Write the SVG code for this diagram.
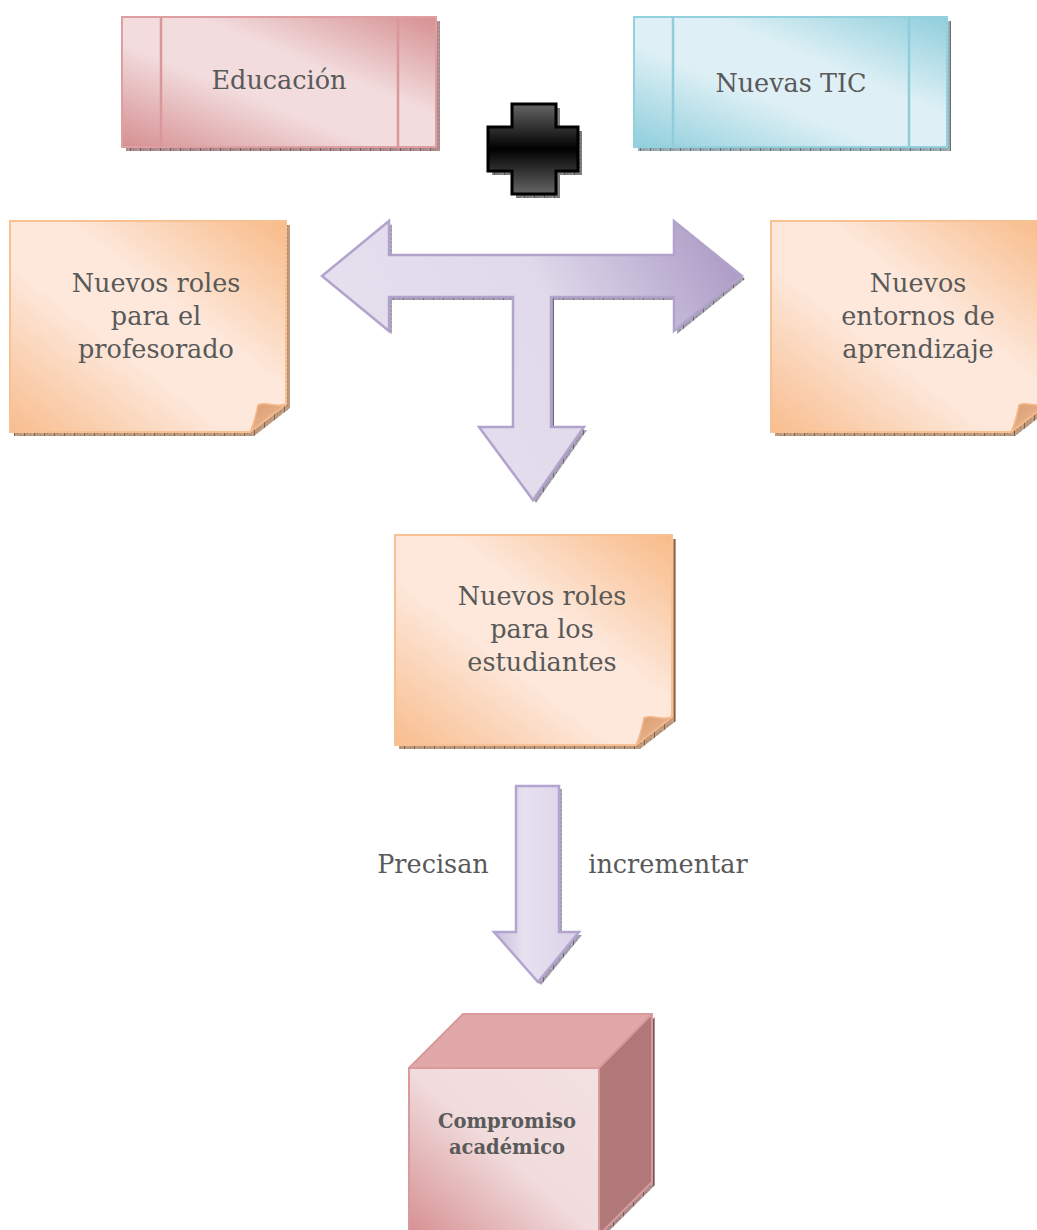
<svg xmlns="http://www.w3.org/2000/svg" xmlns:xlink="http://www.w3.org/1999/xlink" width="1037" height="1230" viewBox="0 0 1037 1230">
<defs>
  <style>
    .t{font-family:"DejaVu Serif","Liberation Serif",serif;font-size:25.5px;fill:#595959;text-anchor:middle}
    .tb{font-family:"DejaVu Serif","Liberation Serif",serif;font-size:19.5px;font-weight:bold;fill:#5a5a5a;text-anchor:middle}
    .hatch{fill:url(#hatch)}
    .pinkS{fill:#ad8a8c}
    .blueS{fill:#97aab1}
    .orS{fill:#bf9a7c}
    .lavS{fill:#a49fae}
    .blkS{fill:#808080}
  </style>
  <pattern id="hatch" width="10" height="4" patternUnits="userSpaceOnUse">
    <rect x="0" y="0" width="1" height="4" fill="#000" fill-opacity="0.35"/>
    <rect x="3" y="1" width="1" height="1" fill="#000" fill-opacity="0.2"/>
    <rect x="6" y="3" width="1" height="1" fill="#000" fill-opacity="0.2"/>
    <rect x="8" y="1" width="1" height="1" fill="#fff" fill-opacity="0.3"/>
  </pattern>
  <linearGradient id="gPink" x1="0" y1="1" x2="1" y2="0">
    <stop offset="0" stop-color="#d68f91"/>
    <stop offset="0.4" stop-color="#f2dcdd"/>
    <stop offset="0.62" stop-color="#f2dcdd"/>
    <stop offset="1" stop-color="#d68f91"/>
  </linearGradient>
  <linearGradient id="gBlue" x1="0" y1="1" x2="1" y2="0">
    <stop offset="0" stop-color="#8fcedc"/>
    <stop offset="0.4" stop-color="#def0f5"/>
    <stop offset="0.62" stop-color="#def0f5"/>
    <stop offset="1" stop-color="#8fcedc"/>
  </linearGradient>
  <linearGradient id="gOr" x1="0" y1="1" x2="1" y2="0">
    <stop offset="0" stop-color="#f8bd8e"/>
    <stop offset="0.4" stop-color="#fde8db"/>
    <stop offset="0.6" stop-color="#fde8db"/>
    <stop offset="1" stop-color="#f8bb88"/>
  </linearGradient>
  <linearGradient id="gFlap" x1="0" y1="0" x2="1" y2="1">
    <stop offset="0" stop-color="#d99b6e"/>
    <stop offset="1" stop-color="#f0c19e"/>
  </linearGradient>
  <linearGradient id="gBlack" x1="0" y1="0" x2="0" y2="1">
    <stop offset="0" stop-color="#666"/>
    <stop offset="0.5" stop-color="#000"/>
    <stop offset="1" stop-color="#666"/>
  </linearGradient>
  <linearGradient id="gLavT" x1="0" y1="0.5" x2="1" y2="0.15">
    <stop offset="0" stop-color="#e6e1ef"/>
    <stop offset="0.55" stop-color="#dfd9ea"/>
    <stop offset="1" stop-color="#ab9ac5"/>
  </linearGradient>
  <linearGradient id="gLavD" x1="0" y1="0" x2="1" y2="0">
    <stop offset="0" stop-color="#c8bddb"/>
    <stop offset="0.35" stop-color="#e6e1ef"/>
    <stop offset="1" stop-color="#dbd3e8"/>
  </linearGradient>
  <linearGradient id="gCube" x1="0" y1="1" x2="1" y2="0">
    <stop offset="0" stop-color="#d68f91"/>
    <stop offset="0.5" stop-color="#f1dcdd"/>
    <stop offset="1" stop-color="#f3e0e1"/>
  </linearGradient>
  <path id="note1" d="M10,221 H286 V404 L250,432 H10 Z"/>
  <path id="note2" d="M771,221 H1047 V404 L1011,432 H771 Z"/>
  <path id="note3" d="M395,535 H672 V717 L636,745 H395 Z"/>
  <path id="plusP" d="M512,104 H556 V127 H578 V171 H556 V194 H512 V171 H488 V127 H512 Z"/>
  <path id="tArrow" d="M322,276 L389,221 V255 H674 V221 L742,276 L674,331 V297 H551 V427 H584 L533,500 L479,427 H513 V297 H389 V331 Z"/>
  <path id="dArrow" d="M516,786 H559 V932 H579 L538,982 L494,932 H516 Z"/>
</defs>

<g id="connectors">
  <g transform="translate(3,3)"><use xlink:href="#tArrow" class="lavS"/><use xlink:href="#tArrow" class="hatch"/></g>
  <use xlink:href="#tArrow" fill="url(#gLavT)" stroke="#b2a3cd" stroke-width="2.5" stroke-linejoin="miter"/>
  <g transform="translate(3,3)"><use xlink:href="#dArrow" class="lavS"/><use xlink:href="#dArrow" class="hatch"/></g>
  <use xlink:href="#dArrow" fill="url(#gLavD)" stroke="#b3a5cf" stroke-width="2.5"/>
</g>

<g id="educacion">
  <rect x="126" y="21" width="314" height="130" class="pinkS"/>
  <rect x="126" y="21" width="314" height="130" class="hatch"/>
  <rect x="122" y="17" width="314" height="130" fill="url(#gPink)" stroke="#dd9fa1" stroke-width="2"/>
  <line x1="161" y1="17" x2="161" y2="147" stroke="#d9979a" stroke-width="2.5"/>
  <line x1="398" y1="17" x2="398" y2="147" stroke="#d9979a" stroke-width="2.5"/>
  <text class="t" x="279" y="89">Educación</text>
</g>

<g id="nuevas-tic">
  <rect x="638" y="21" width="313" height="130" class="blueS"/>
  <rect x="638" y="21" width="313" height="130" class="hatch"/>
  <rect x="634" y="17" width="313" height="130" fill="url(#gBlue)" stroke="#94d1df" stroke-width="2"/>
  <line x1="673" y1="17" x2="673" y2="147" stroke="#8fcddb" stroke-width="2.5"/>
  <line x1="909" y1="17" x2="909" y2="147" stroke="#8fcddb" stroke-width="2.5"/>
  <text class="t" x="791" y="92">Nuevas TIC</text>
</g>

<g id="plus">
  <g transform="translate(4,4)"><use xlink:href="#plusP" class="blkS"/><use xlink:href="#plusP" class="hatch"/></g>
  <use xlink:href="#plusP" fill="url(#gBlack)" stroke="#000" stroke-width="3"/>
</g>

<g id="roles-profesorado">
  <g transform="translate(4,4)"><use xlink:href="#note1" class="orS"/><use xlink:href="#note1" class="hatch"/></g>
  <use xlink:href="#note1" fill="url(#gOr)" stroke="#f7c194" stroke-width="2"/>
  <path d="M286,404 C276,408 266,401 258,405 C256,415 254,424 250,432 Z" fill="url(#gFlap)" stroke="#f5b98a" stroke-width="1.5"/>
  <text class="t" x="156" y="292">Nuevos roles</text>
  <text class="t" x="156" y="325">para el</text>
  <text class="t" x="156" y="358">profesorado</text>
</g>

<g id="entornos-aprendizaje">
  <g transform="translate(4,4)"><use xlink:href="#note2" class="orS"/><use xlink:href="#note2" class="hatch"/></g>
  <use xlink:href="#note2" fill="url(#gOr)" stroke="#f7c194" stroke-width="2"/>
  <path d="M1047,404 C1037,408 1027,401 1019,405 C1017,415 1015,424 1011,432 Z" fill="url(#gFlap)" stroke="#f5b98a" stroke-width="1.5"/>
  <text class="t" x="918" y="292">Nuevos</text>
  <text class="t" x="918" y="325">entornos de</text>
  <text class="t" x="918" y="358">aprendizaje</text>
</g>

<g id="roles-estudiantes">
  <g transform="translate(4,4)"><use xlink:href="#note3" class="orS"/><use xlink:href="#note3" class="hatch"/></g>
  <use xlink:href="#note3" fill="url(#gOr)" stroke="#f7c194" stroke-width="2"/>
  <path d="M672,717 C662,721 652,714 644,718 C642,728 640,737 636,745 Z" fill="url(#gFlap)" stroke="#f5b98a" stroke-width="1.5"/>
  <text class="t" x="542" y="605">Nuevos roles</text>
  <text class="t" x="542" y="638">para los</text>
  <text class="t" x="542" y="671">estudiantes</text>
</g>

<g id="labels">
  <text class="t" x="433" y="873">Precisan</text>
  <text class="t" x="668" y="873">incrementar</text>
</g>

<g id="compromiso">
  <g transform="translate(3,3)">
    <path d="M599,1068 L652,1014 V1182 L599,1235 Z" class="pinkS"/>
    <path d="M599,1068 L652,1014 V1182 L599,1235 Z" class="hatch"/>
  </g>
  <path d="M409,1068 L463,1014 H652 L599,1068 Z" fill="#e0a8a9" stroke="#da9a9c" stroke-width="2" stroke-linejoin="round"/>
  <path d="M599,1068 L652,1014 V1182 L599,1235 Z" fill="#b07878" stroke="#da9a9c" stroke-width="2" stroke-linejoin="round"/>
  <rect x="409" y="1068" width="190" height="168" fill="url(#gCube)" stroke="#da9a9c" stroke-width="2"/>
  <text class="tb" x="507" y="1128">Compromiso</text>
  <text class="tb" x="507" y="1154">académico</text>
</g>
</svg>
